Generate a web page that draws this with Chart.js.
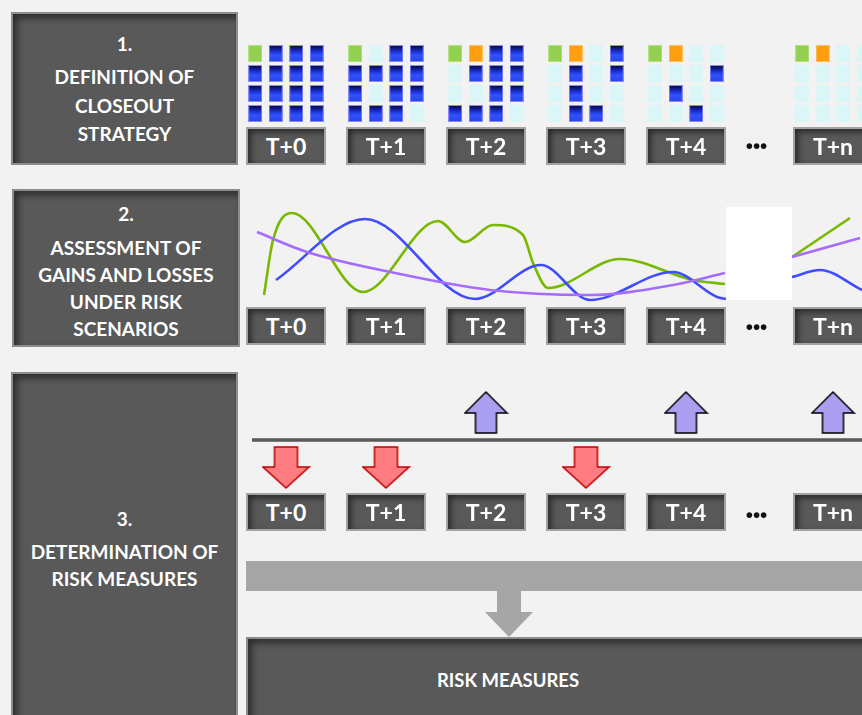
<!DOCTYPE html>
<html>
<head>
<meta charset="utf-8">
<script src="https://cdn.jsdelivr.net/npm/chart.js@4.4.1/dist/chart.umd.min.js"></script>
<style>
    body { margin: 0; background: #f2f2f2; width: 862px; height: 715px; overflow: hidden; position: relative; font-family: Lato, 'Open Sans', sans-serif; }
    .step { position: absolute; background: #595959; border: 2px solid #8c8c8c; box-sizing: border-box; box-shadow: inset 4px 4px 7px rgba(0,0,0,0.5); color: #fff; font-weight: bold; text-align: center; font-size: 19px; }
    .step .txt { position: absolute; left: 0; right: 0; }
    .tag { position: absolute; width: 80px; height: 38px; box-sizing: border-box; background: #595959; border: 2px solid #a3a3a3; box-shadow: inset 3px 3px 6px rgba(0,0,0,0.55); color: #fff; font-weight: bold; font-size: 23px; line-height: 34px; text-align: center; }
    .dots { position: absolute; width: 40px; text-align: center; font-weight: bold; font-size: 30px; letter-spacing: -1px; line-height: 20px; color: #111; }
    canvas { position: absolute; left: 0; }
    #gap { position: absolute; left: 726px; top: 207px; width: 66px; height: 93px; background: #fff; z-index: 5; }
    #bar { position: absolute; left: 246px; top: 561px; width: 620px; height: 30px; background: #a6a6a6; }
    #shaft { position: absolute; left: 497px; top: 590px; width: 24px; height: 23px; background: #a6a6a6; }
    #head { position: absolute; left: 485px; top: 612px; width: 0; height: 0; border-left: 24px solid transparent; border-right: 24px solid transparent; border-top: 25px solid #a6a6a6; }
</style>
</head>
<body>
<div class="step" style="left:11px;top:12px;width:227px;height:153px">
    <div class="txt" style="top:16px">
        <div style="line-height:28px;margin-bottom:5px">1.</div>
        <div style="line-height:28.5px">DEFINITION OF<br>CLOSEOUT<br>STRATEGY</div>
    </div>
</div>
<div class="step" style="left:12px;top:189px;width:228px;height:158px">
    <div class="txt" style="top:8.5px">
        <div style="line-height:27px;margin-bottom:7px">2.</div>
        <div style="line-height:27px">ASSESSMENT OF<br>GAINS AND LOSSES<br>UNDER RISK<br>SCENARIOS</div>
    </div>
</div>
<div class="step" style="left:11px;top:372px;width:227px;height:360px">
    <div class="txt" style="top:130.5px">
        <div style="line-height:27px;margin-bottom:6px">3.</div>
        <div style="line-height:27px">DETERMINATION OF<br>RISK MEASURES</div>
    </div>
</div>
<div id="bar"></div>
<div id="shaft"></div>
<div id="head"></div>
<div class="step" style="left:246px;top:637px;width:640px;height:100px">
    <div class="txt" style="top:27px;right:auto;width:520px;line-height:28px;font-size:18.5px">RISK MEASURES</div>
</div>

<canvas id="closeoutChart" width="862" height="180" style="top:0"></canvas>
<canvas id="pnlChart" width="862" height="180" style="top:180px"></canvas>
<canvas id="riskChart" width="862" height="355" style="top:360px"></canvas>
<div id="gap"></div>

<script>
// Closeout dates
const dates = ['T+0', 'T+1', 'T+2', 'T+3', 'T+4', 'T+n'];

// State of the 16 positions at each date, row by row
// g = hedged, o = being closed, b = open, e = closed
const positions = [
    'gbbb bbbb bbbb bbbb',
    'gebb bbbb bebb bbbe',
    'gobb ebbb eebb bbbe',
    'goeb ebeb ebee ebbe',
    'goee eeeb ebee eebe',
    'goee eeee eeee eeee'
];

// Gains/losses paths under three risk scenarios [time, value]
const scenarioGreen = [[-0.22, 0.5], [-0.13, 6.0], [0.06, 8.7], [0.77, 0.8], [1.52, 7.9], [1.79, 5.8], [2.07, 7.5],
    [2.37, 6.5], [2.47, 3.7], [2.62, 1.2], [3.34, 4.1], [4.07, 2.0], [4.39, 1.6], [4.7, null], [5.06, 4.3], [5.64, 8.2]];
const scenarioBlue = [[-0.10, 2.0], [0.79, 8.1], [1.89, 0.1], [2.55, 3.5], [3.04, 0.0], [3.87, 2.8], [4.31, 0.3],
    [4.40, 0.1], [4.7, null], [5.06, 2.3], [5.34, 3.0], [5.76, 1.0]];
const scenarioPurple = [[-0.29, 6.8], [0.21, 4.8], [1.04, 2.8], [2.04, 1.0], [3.04, 0.5], [3.87, 1.5], [4.39, 2.7],
    [4.7, null], [5.06, 4.3], [5.74, 6.2]];

// Result at each date against the threshold
const outcome = ['loss', 'loss', 'gain', 'loss', 'gain', 'gain'];
const threshold = 0;

// layout
const SLOT = [0, 1, 2, 3, 4, 5.47];
const DOTS_SLOT = 4.7;
const CELL_STEP = 0.205;
const X_RANGE = { type: 'linear', min: -2.86, max: 5.76, display: false };

function baseOptions(yScale) {
    return {
        responsive: false,
        animation: false,
        events: [],
        layout: { padding: 0, autoPadding: false },
        plugins: { legend: { display: false }, tooltip: { enabled: false } },
        scales: { x: X_RANGE, y: yScale }
    };
}

// point images
function cellImage(kind) {
    const c = document.createElement('canvas');
    c.width = 14; c.height = 17;
    const g = c.getContext('2d');
    if (kind === 'b') {
        const grad = g.createLinearGradient(0, 0, 0, 17);
        grad.addColorStop(0, '#05051c');
        grad.addColorStop(0.35, '#1a2bc8');
        grad.addColorStop(0.6, '#2f52ff');
        grad.addColorStop(1, '#2a43dc');
        g.fillStyle = grad;
        g.fillRect(0, 0, 14, 17);
        g.strokeStyle = '#8a8aff';
        g.lineWidth = 1;
        g.strokeRect(0.5, 0.5, 13, 16);
    } else {
        g.fillStyle = { g: '#92d050', o: '#ff9f0f', e: '#daf6f6' }[kind];
        g.fillRect(0, 0, 14, 17);
        if (kind !== 'e') {
            g.strokeStyle = kind === 'g' ? '#b5e07f' : '#ffc060';
            g.strokeRect(0.5, 0.5, 13, 16);
        }
    }
    return c;
}
const cellImg = { g: cellImage('g'), o: cellImage('o'), b: cellImage('b'), e: cellImage('e') };

function arrowImage(up) {
    const w = up ? 45 : 49, h = 43;
    const c = document.createElement('canvas');
    c.width = w; c.height = h;
    const g = c.getContext('2d');
    const cx = w / 2, hw = up ? 21 : 23, sw = up ? 10.5 : 11.5;
    g.beginPath();
    if (up) {
        g.moveTo(cx, 1); g.lineTo(cx + hw, 22); g.lineTo(cx + sw, 22); g.lineTo(cx + sw, 42);
        g.lineTo(cx - sw, 42); g.lineTo(cx - sw, 22); g.lineTo(cx - hw, 22);
    } else {
        g.moveTo(cx - sw, 1); g.lineTo(cx + sw, 1); g.lineTo(cx + sw, 21); g.lineTo(cx + hw, 21);
        g.lineTo(cx, 42); g.lineTo(cx - hw, 21); g.lineTo(cx - sw, 21);
    }
    g.closePath();
    g.fillStyle = up ? '#ab9ff2' : '#ff7c80';
    g.fill();
    g.lineWidth = 1.5;
    g.strokeStyle = up ? '#000' : '#c00000';
    g.stroke();
    return c;
}
const upArrow = arrowImage(true);
const downArrow = arrowImage(false);

// 1. closeout strategy grids
const cellPoints = [];
positions.forEach((grid, p) => {
    grid.split(' ').forEach((row, r) => {
        row.split('').forEach((s, c) => {
            cellPoints.push({ x: SLOT[p] + (c - 1.5) * CELL_STEP, y: r, s: s });
        });
    });
});

const closeoutChart = new Chart(document.getElementById('closeoutChart').getContext('2d'), {
    type: 'scatter',
    data: {
        datasets: [{
            data: cellPoints,
            clip: false,
            pointRadius: 10,
            hoverRadius: 10,
            pointStyle: ctx => cellImg[ctx.raw.s]
        }]
    },
    options: baseOptions({ type: 'linear', min: -2.675, max: 6.325, reverse: true, display: false })
});

// 2. gains and losses under risk scenarios
const toXY = arr => arr.map(d => ({ x: d[0], y: d[1] }));
function curve(data, color) {
    return {
        data: toXY(data),
        borderColor: color,
        borderWidth: 2.6,
        pointRadius: 0,
        fill: false,
        spanGaps: false,
        cubicInterpolationMode: 'monotone'
    };
}
const pnlChart = new Chart(document.getElementById('pnlChart').getContext('2d'), {
    type: 'line',
    data: {
        datasets: [
            curve(scenarioPurple, '#a56cff'),
            curve(scenarioBlue, '#3f4dff'),
            curve(scenarioGreen, '#78b800')
        ]
    },
    options: baseOptions({ type: 'linear', min: -6, max: 12, display: false })
});

// 3. risk measures: gains above, losses below the threshold
const riskChart = new Chart(document.getElementById('riskChart').getContext('2d'), {
    type: 'scatter',
    data: {
        datasets: [{
            type: 'line',
            data: [{ x: -0.34, y: threshold }, { x: 5.8, y: threshold }],
            borderColor: '#595959',
            borderWidth: 3.5,
            pointRadius: 0
        }, {
            data: outcome.map((o, i) => ({ x: SLOT[i], y: o === 'gain' ? threshold + 1.375 : threshold - 1.375 })),
            clip: false,
            pointRadius: 10,
            hoverRadius: 10,
            pointStyle: outcome.map(o => o === 'gain' ? upArrow : downArrow)
        }]
    },
    options: baseOptions({ type: 'linear', min: -13.75, max: 4, display: false })
});

// date tags under each panel, placed on the shared time scale
function addTags(chart, top, dotsTop) {
    const xs = chart.scales.x;
    dates.forEach((d, i) => {
        const el = document.createElement('div');
        el.className = 'tag';
        el.textContent = d;
        el.style.left = (xs.getPixelForValue(SLOT[i]) - 40) + 'px';
        el.style.top = top + 'px';
        document.body.appendChild(el);
    });
    const dots = document.createElement('div');
    dots.className = 'dots';
    dots.textContent = '···';
    dots.style.left = (xs.getPixelForValue(DOTS_SLOT) - 20) + 'px';
    dots.style.top = dotsTop + 'px';
    document.body.appendChild(dots);
}
addTags(closeoutChart, 127, 133);
addTags(pnlChart, 307, 314);
addTags(riskChart, 493, 502);
</script>
</body>
</html>
